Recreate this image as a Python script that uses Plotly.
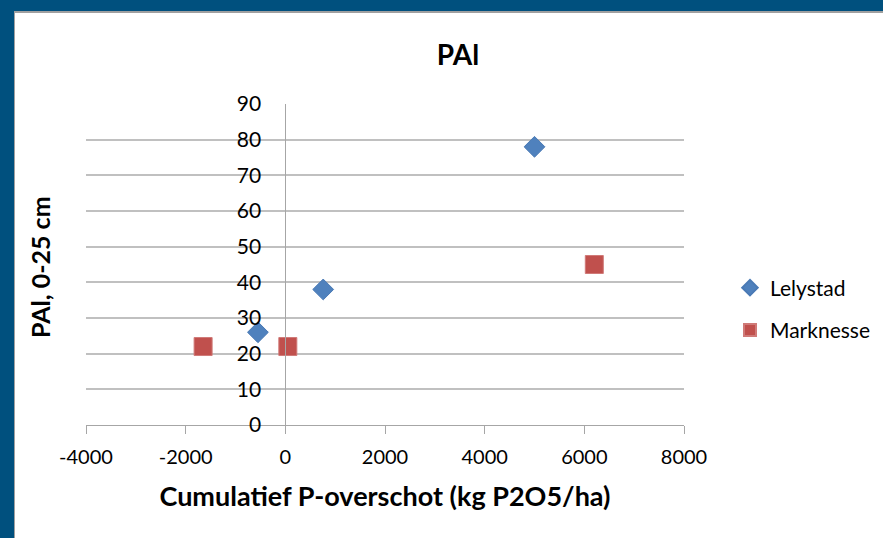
import plotly.graph_objects as go

# data
lelystad_x = [-550, 760, 5000]
lelystad_y = [26, 38, 78]
marknesse_x = [-1650, 50, 6200]
marknesse_y = [22, 22, 45]

x_ticks = [-4000, -2000, 0, 2000, 4000, 6000, 8000]
x_tick_labels = ['-4000', '-2000', '0', '2000', '4000', '6000', '8000']
y_ticks = [0, 10, 20, 30, 40, 50, 60, 70, 80, 90]

W, H = 883, 538
L, R, T, B = 86, 199, 104, 113
pw = W - L - R
ph = H - T - B

def px_x(p):
    return (p - L) / pw

def px_y(p):
    return (H - B - p) / ph

font_name = 'Lato, Open Sans, sans-serif'
blue_frame = '#00507E'

fig = go.Figure()
fig.add_trace(go.Scatter(
    x=lelystad_x, y=lelystad_y, mode='markers', name='Lelystad',
    legendgroup='a',
    marker=dict(symbol='diamond', size=16, color='#4F81BD',
                line=dict(color='#4A7AB5', width=1)),
))
fig.add_trace(go.Scatter(
    x=marknesse_x, y=marknesse_y, mode='markers', name='Marknesse',
    legendgroup='b',
    marker=dict(symbol='square', size=18, color='#C0504D',
                line=dict(color='#D07A78', width=1)),
))

fig.update_layout(
    width=W, height=H,
    margin=dict(l=L, r=R, t=T, b=B, autoexpand=False),
    paper_bgcolor='white',
    plot_bgcolor='white',
    font=dict(family=font_name, color='black', size=20),
    title=dict(text='<b>PAl</b>', x=px_x(458), xref='paper', xanchor='center',
               y=1 - 55 / H, yanchor='middle', font=dict(size=28)),
    showlegend=True,
    legend=dict(x=px_x(730), y=px_y(309), xanchor='left', yanchor='middle',
                font=dict(size=21), tracegroupgap=12, traceorder='grouped',
                itemsizing='constant'),
    xaxis=dict(
        range=[-4000, 8000], tickvals=x_ticks, ticktext=x_tick_labels,
        showgrid=False, zeroline=False,
        showline=True, linecolor='#A6A6A6', linewidth=1,
        ticks='outside', ticklen=8, tickcolor='#A6A6A6',
        ticklabelstandoff=6,
        title=dict(text='<b>Cumulatief P-overschot (kg P2O5/ha)</b>',
                   font=dict(size=27), standoff=20),
    ),
    yaxis=dict(
        range=[0, 90], tickvals=y_ticks, showgrid=True, gridcolor='#C0C0C0',
        gridwidth=2, zeroline=False, showline=True, linecolor='#A6A6A6',
        linewidth=1, anchor='free', position=1 / 3, ticks='',
        ticklabelstandoff=20, tickfont=dict(size=21),
    ),
    annotations=[dict(
        text='<b>PAl, 0-25 cm</b>', textangle=-90, showarrow=False,
        xref='paper', yref='paper', x=px_x(40), y=px_y(267),
        xanchor='center', yanchor='middle', font=dict(size=25),
    )],
    shapes=[
        dict(type='rect', xref='paper', yref='paper', layer='above',
             x0=px_x(0), x1=px_x(14), y0=px_y(H), y1=px_y(0),
             fillcolor=blue_frame, line=dict(width=0)),
        dict(type='rect', xref='paper', yref='paper', layer='above',
             x0=px_x(0), x1=px_x(W), y0=px_y(11), y1=px_y(0),
             fillcolor=blue_frame, line=dict(width=0)),
        dict(type='line', xref='paper', yref='paper', layer='above',
             x0=px_x(14.5), x1=px_x(14.5), y0=px_y(H), y1=px_y(11),
             line=dict(color='#A0A0A0', width=1)),
        dict(type='line', xref='paper', yref='paper', layer='above',
             x0=px_x(14), x1=px_x(W), y0=px_y(12), y1=px_y(12),
             line=dict(color='#A0A0A0', width=2)),
    ],
)

# the page has a default 8px body margin; drop it so the frame sits at the edge
fig.write_html("out.html", config={'displayModeBar': False},
               post_script="document.body.style.margin='0';")
